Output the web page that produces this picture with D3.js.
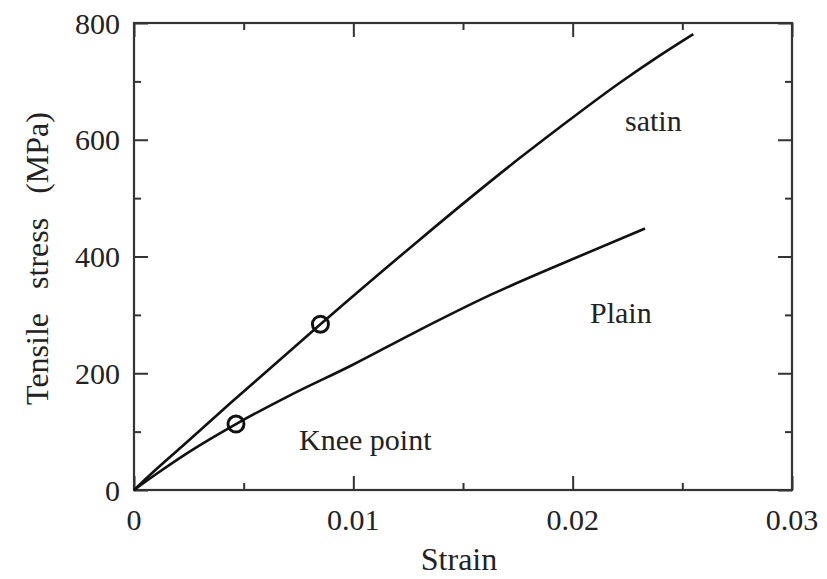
<!DOCTYPE html>
<html>
<head>
<meta charset="utf-8">
<script src="https://cdn.jsdelivr.net/npm/d3@7"></script>
<style>
  html, body { margin: 0; padding: 0; background: #fff; }
</style>
</head>
<body>
<svg id="chart" width="827" height="579"></svg>
<script>
// Tensile stress–strain curves for two weave types
const satinStrain = [0, 0.0010, 0.0022, 0.0044, 0.0085, 0.0130, 0.0158, 0.0176, 0.0194, 0.0222, 0.0240, 0.0255];
const satinStress = [0, 35, 75, 149, 284, 428, 515, 569, 621, 699, 745, 781];

const plainStrain = [0, 0.0010, 0.0025, 0.00465, 0.0070, 0.0100, 0.0127, 0.0163, 0.0199, 0.0233];
const plainStress = [0, 27, 65, 113, 160, 215, 268, 335, 394, 448];

// Knee points marked on each curve
const kneeStrain = [0.00465, 0.0085];
const kneeStress = [113, 284];

const xTicks = [0, 0.01, 0.02, 0.03];
const xTickLabels = ["0", "0.01", "0.02", "0.03"];
const xMinor = [0.005, 0.015, 0.025];
const yTicks = [0, 200, 400, 600, 800];
const yMinor = [100, 300, 500, 700];

const margin = { left: 134, right: 35, top: 23, bottom: 89 };
const W = 827, H = 579;
const svg = d3.select("#chart")
  .attr("font-family", "'Liberation Serif', 'DejaVu Serif', serif");

const x = d3.scaleLinear().domain([0, 0.03]).range([margin.left, W - margin.right]);
const y = d3.scaleLinear().domain([0, 800]).range([H - margin.bottom, margin.top]);

const ink = "#111";
const frameCol = "#333";
const textCol = "#222";

// Inward-pointing ticks on all four sides
function tickAxis(axisFn, scale, vals, len, transform) {
  const g = svg.append("g").attr("transform", transform)
    .call(axisFn(scale).tickValues(vals).tickSize(len).tickFormat(""));
  g.select(".domain").remove();
  g.selectAll(".tick line").attr("stroke", frameCol).attr("stroke-width", 2);
  return g;
}
const bottomY = y(0), topY = y(800), leftX = x(0), rightX = x(0.03);
tickAxis(d3.axisTop, x, xTicks, 14, `translate(0,${bottomY})`);
tickAxis(d3.axisTop, x, xMinor, 7, `translate(0,${bottomY})`);
tickAxis(d3.axisBottom, x, xTicks, 14, `translate(0,${topY})`);
tickAxis(d3.axisBottom, x, xMinor, 7, `translate(0,${topY})`);
tickAxis(d3.axisRight, y, yTicks, 14, `translate(${leftX},0)`);
tickAxis(d3.axisRight, y, yMinor, 7, `translate(${leftX},0)`);
tickAxis(d3.axisLeft, y, yTicks, 14, `translate(${rightX},0)`);
tickAxis(d3.axisLeft, y, yMinor, 7, `translate(${rightX},0)`);

// Frame
svg.append("rect")
  .attr("x", leftX).attr("y", topY)
  .attr("width", rightX - leftX).attr("height", bottomY - topY)
  .attr("fill", "none").attr("stroke", frameCol).attr("stroke-width", 2.2);

// Tick labels
const fs = 30;
svg.append("g").selectAll("text").data(xTicks).join("text")
  .attr("x", d => x(d)).attr("y", bottomY + 40)
  .attr("text-anchor", "middle").attr("font-size", fs).attr("fill", textCol)
  .text((d, i) => xTickLabels[i]);
svg.append("g").selectAll("text").data(yTicks).join("text")
  .attr("x", leftX - 14).attr("y", d => y(d)).attr("dy", "0.35em")
  .attr("text-anchor", "end").attr("font-size", fs).attr("fill", textCol)
  .text(d => d3.format("d")(d));

// Axis titles
svg.append("text")
  .attr("x", 459).attr("y", 570)
  .attr("text-anchor", "middle").attr("font-size", 32).attr("fill", textCol)
  .text("Strain");
svg.append("text")
  .attr("transform", `translate(48,${(topY + bottomY) / 2 + 2}) rotate(-90)`)
  .attr("text-anchor", "middle").attr("font-size", 32).attr("fill", textCol)
  .attr("word-spacing", 16)
  .text("Tensile stress (MPa)");

// Curves
const line = d3.line().x(d => x(d[0])).y(d => y(d[1])).curve(d3.curveMonotoneX);
const satin = satinStrain.map((s, i) => [s, satinStress[i]]);
const plain = plainStrain.map((s, i) => [s, plainStress[i]]);
[satin, plain].forEach(data => {
  svg.append("path").datum(data)
    .attr("d", line)
    .attr("fill", "none").attr("stroke", ink)
    .attr("stroke-width", 2.6).attr("stroke-linejoin", "round");
});

// Knee point markers
svg.append("g").selectAll("circle").data(kneeStrain).join("circle")
  .attr("cx", d => x(d)).attr("cy", (d, i) => y(kneeStress[i]))
  .attr("r", 8).attr("fill", "none")
  .attr("stroke", ink).attr("stroke-width", 3);

// Curve labels
const labels = svg.append("g").attr("font-size", 30).attr("fill", textCol);
labels.append("text").attr("x", 625).attr("y", 131).text("satin");
labels.append("text").attr("x", 590).attr("y", 323).text("Plain");
labels.append("text").attr("x", 299).attr("y", 450).text("Knee point");
</script>
</body>
</html>
